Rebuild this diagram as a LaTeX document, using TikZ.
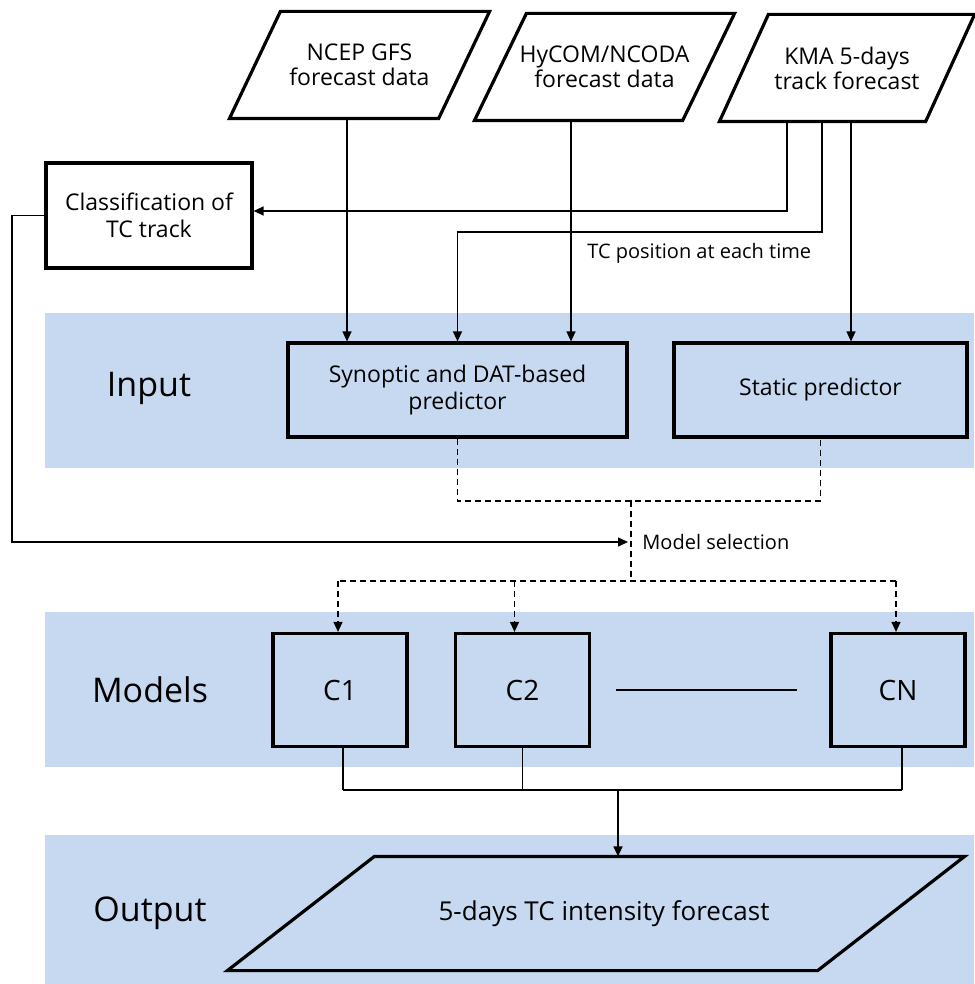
\documentclass[tikz,border=0pt]{standalone}
\usepackage{fontspec}
\setmainfont{Open Sans}
\usetikzlibrary{calc,arrows.meta}

\definecolor{bandblue}{RGB}{198,217,240}

\tikzset{
  box/.style={draw, line width=1.6pt, align=center, inner sep=0pt,
    font=\fontsize{11.5}{13.5}\selectfont},
  databox/.style={box, draw=none, font=\fontsize{11.5}{12.5}\selectfont},
  modelbox/.style={box, fill=bandblue, minimum width=67pt, minimum height=56.5pt,
    font=\fontsize{14}{16}\selectfont},
  bandlabel/.style={font=\fontsize{17}{20}\selectfont},
  note/.style={font=\fontsize{10}{11}\selectfont, inner sep=0pt},
  frame/.style={line width=1.6pt, line join=miter},
  line/.style={line width=0.65pt},
  arr/.style={line, -{Triangle[length=5pt,width=4.5pt]}},
  dashline/.style={line, dash pattern=on 3pt off 2pt},
  dasharr/.style={dashline, -{Triangle[length=5pt,width=4.5pt]}}
}

% slanted outline round a node; #1 = node name, #2 = slant
\newcommand*{\Slanted}[2]{%
  \draw[frame] ($(#1.north west)+(#2,0)$) -- (#1.north east)
    -- ($(#1.south east)-(#2,0)$) -- (#1.south west) -- cycle;
}

\begin{document}
\begin{tikzpicture}[x=0.5pt, y=-0.5pt]
  \useasboundingbox (0,0) rectangle (974,984);

  % blue bands
  \foreach \ya/\yb in {313/468, 612/767, 835/984}
    \fill[bandblue] (45,\ya) rectangle (974,\yb);

  \node[bandlabel] (linput) at (149,388) {Input};
  \node[bandlabel] (lmodels) at (150,690) {Models};
  \node[bandlabel] (loutput) at (150,913) {Output};

  % data sources
  \node[databox, minimum width=128.5pt, minimum height=52pt] (ncep) at (359.5,65)
    {NCEP GFS\\forecast data};
  \node[databox, minimum width=128.5pt, minimum height=52pt] (hycom) at (604.5,67)
    {HyCOM/NCODA\\forecast data};
  \node[databox, minimum width=126pt, minimum height=52pt] (kma) at (847,68)
    {KMA 5-days\\track forecast};
  \Slanted{ncep}{51}
  \Slanted{hycom}{52}
  \Slanted{kma}{49}

  \node[box, fill=white, minimum width=103pt, minimum height=52.5pt] (cls) at (149,215.5)
    {Classification of\\TC track};

  % predictors
  \node[box, fill=bandblue, minimum width=169.5pt, minimum height=47pt] (syn) at (457.5,390)
    {Synoptic and DAT-based\\predictor};
  \node[box, fill=bandblue, minimum width=146.5pt, minimum height=47pt] (stat) at (820.5,390)
    {Static predictor};

  % models
  \foreach \name/\x/\lbl in {c1/340/C1, c2/522.5/C2, cn/898/CN}
    \node[modelbox] (\name) at (\x,690) {\lbl};

  \node[databox, minimum width=367pt, minimum height=55.5pt,
    font=\fontsize{13}{15}\selectfont] (out) at (596,913.5)
    {\hspace*{8pt}5-days TC intensity forecast};
  \Slanted{out}{147}

  % inputs to predictors
  \draw[arr] (347,0 |- ncep.south) -- (347,0 |- syn.north);
  \draw[arr] (571,0 |- hycom.south) -- (571,0 |- syn.north);
  \draw[arr] (851,0 |- kma.south) -- (851,0 |- stat.north);
  \draw[arr] (787,0 |- kma.south) |- ([yshift=2.25pt]cls.east);
  \draw[arr] (822,0 |- kma.south) -- (822,232) -| (syn.north);
  \node[note, anchor=west] (tcpos) at (587,253) {TC position at each time};

  % model selection
  \coordinate (mid) at (631,501);
  \coordinate (split) at (631,581);
  \coordinate (sel) at (628,542);
  \draw[dashline] (syn.south) |- (mid) -| (stat.south);
  \draw[dashline] (mid) -- (split);
  \draw[dashline] (split -| c1.north) -- (split -| cn.north);
  \foreach \m/\dx in {c1/-1pt, c2/-4pt, cn/-1pt}
    \draw[dasharr] ([xshift=\dx]\m.north |- split) -- ([xshift=\dx]\m.north);
  \draw[arr] (cls.west) -- (12,0 |- cls.west) |- (sel);
  \node[note, anchor=west] (msel) at (642,542) {Model selection};

  % models to output
  \coordinate (merge) at (618,790);
  \foreach \m/\dx in {c1/1.5pt, c2/0pt, cn/2pt}
    \draw[line] ([xshift=\dx]\m.south) -- ([xshift=\dx]\m.south |- merge);
  \draw[line] ([xshift=1.5pt]c1.south |- merge) -- ([xshift=2pt]cn.south |- merge);
  \draw[line] ([xshift=12.5pt]c2.east) -- ([xshift=-16pt]cn.west);
  \draw[arr] (merge) -- (merge |- out.north);
\end{tikzpicture}
\end{document}
